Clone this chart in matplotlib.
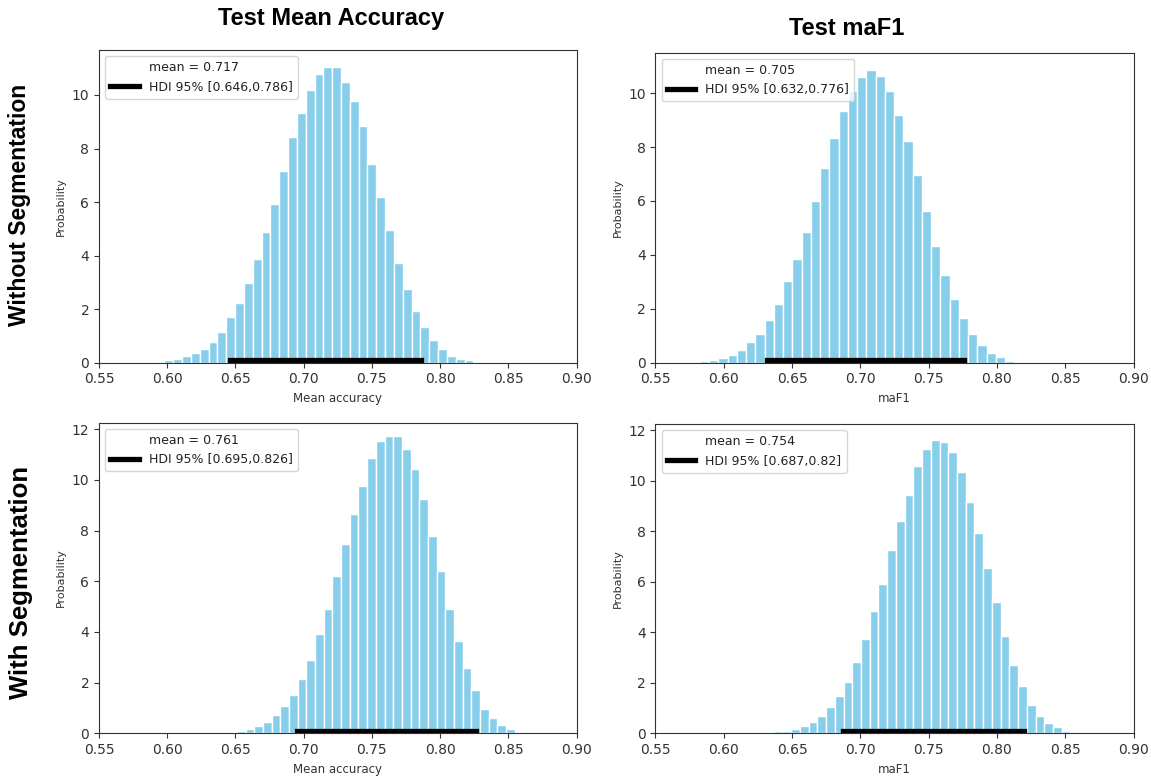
import numpy as np
import matplotlib
matplotlib.use("Agg")
import matplotlib.pyplot as plt

# histogram heights (left to right)
acc_noseg = [0.10, 0.15, 0.25, 0.36, 0.53, 0.78, 1.15, 1.70, 2.24, 2.99, 3.89, 4.90,
             5.93, 7.16, 8.44, 9.31, 10.20, 10.80, 11.06, 11.03, 10.50, 9.78, 8.86,
             7.43, 6.20, 4.96, 3.74, 2.76, 1.93, 1.33, 0.84, 0.50, 0.25, 0.14, 0.09]
f1_noseg = [0.06, 0.11, 0.17, 0.28, 0.48, 0.75, 1.06, 1.59, 2.16, 3.02, 3.85, 4.86,
            6.00, 7.22, 8.33, 9.33, 10.06, 10.60, 10.85, 10.64, 10.06, 9.19, 8.22,
            6.95, 5.63, 4.33, 3.27, 2.37, 1.65, 1.06, 0.64, 0.37, 0.23, 0.05]
acc_seg = [0.05, 0.10, 0.16, 0.27, 0.45, 0.72, 1.07, 1.52, 2.16, 2.89, 3.92, 4.89,
           6.21, 7.47, 8.67, 9.76, 10.85, 11.52, 11.73, 11.73, 11.23, 10.43, 9.23,
           7.80, 6.39, 4.89, 3.63, 2.56, 1.69, 0.96, 0.61, 0.33, 0.16, 0.05]
f1_seg = [0.07, 0.08, 0.18, 0.29, 0.46, 0.68, 1.03, 1.47, 2.04, 2.82, 3.72, 4.84,
          5.91, 7.26, 8.39, 9.45, 10.58, 11.25, 11.59, 11.53, 11.14, 10.34, 9.17,
          7.93, 6.53, 5.18, 3.84, 2.71, 1.86, 1.13, 0.68, 0.41, 0.24, 0.08]

# histogram range (first bin left edge, last bin right edge)
ranges = [(0.598, 0.8244), (0.5825, 0.8127), (0.6447, 0.8611), (0.6366, 0.8538)]
means = [0.717, 0.705, 0.761, 0.754]
hdis = [(0.646, 0.786), (0.632, 0.776), (0.695, 0.826), (0.687, 0.82)]
hdi_labels = ["[0.646,0.786]", "[0.632,0.776]", "[0.695,0.826]", "[0.687,0.82]"]
xlabels = ["Mean accuracy", "maF1", "Mean accuracy", "maF1"]
ylims = [11.68, 11.5, 12.26, 12.24]
col_titles = ["Test Mean Accuracy", "Test maF1"]
row_titles = ["Without Segmentation", "With Segmentation"]

heights = [acc_noseg, f1_noseg, acc_seg, f1_seg]

fig = plt.figure(figsize=(11.51, 7.78), dpi=100)
boxes = [
    [0.0860, 0.5338, 0.4149, 0.4019],
    [0.5695, 0.5338, 0.4153, 0.3985],
    [0.0860, 0.0575, 0.4149, 0.3992],
    [0.5695, 0.0575, 0.4153, 0.3975],
]

for i in range(4):
    ax = fig.add_axes(boxes[i])
    h = heights[i]
    lo, hi = ranges[i]
    edges = np.linspace(lo, hi, len(h) + 1)
    ax.bar(edges[:-1], h, width=np.diff(edges), align="edge",
           color="#87CEEB", edgecolor="white", linewidth=1)
    ax.plot([], [], " ", label="mean = %s" % means[i])
    ax.plot(hdis[i], [0.1, 0.1], color="black", lw=3.8, solid_capstyle="projecting",
            label="HDI 95% " + hdi_labels[i])
    ax.set_xlim(0.55, 0.90)
    ax.set_ylim(0, ylims[i])
    ax.set_xticks(np.arange(0.55, 0.901, 0.05))
    ax.set_xticklabels(["%.2f" % v for v in np.arange(0.55, 0.901, 0.05)])
    ax.tick_params(labelsize=10, colors="#333333", labelcolor="#333333")
    ax.set_xlabel(xlabels[i], fontsize=8.5, color="#333333")
    ax.set_ylabel("Probability", fontsize=8, color="#333333")
    for s in ax.spines.values():
        s.set_color("#333333")
    ax.legend(loc="upper left", fontsize=9, handlelength=2.3, labelcolor="#222222")

title_font = ["Liberation Sans Narrow", "Liberation Sans", "DejaVu Sans"]
fig.text(0.288, 0.976, col_titles[0], ha="center", va="center", fontsize=17,
         fontweight="bold", family=title_font)
fig.text(0.736, 0.964, col_titles[1], ha="center", va="center", fontsize=17,
         fontweight="bold", family=title_font)
fig.text(0.017, 0.736, row_titles[0], ha="center", va="center", rotation=90,
         fontsize=16.5, fontweight="bold", family=["Liberation Sans", "DejaVu Sans"])
fig.text(0.018, 0.251, row_titles[1], ha="center", va="center", rotation=90,
         fontsize=18.5, fontweight="bold", family=["Liberation Sans", "DejaVu Sans"])

fig.savefig("out.png", dpi=100)
